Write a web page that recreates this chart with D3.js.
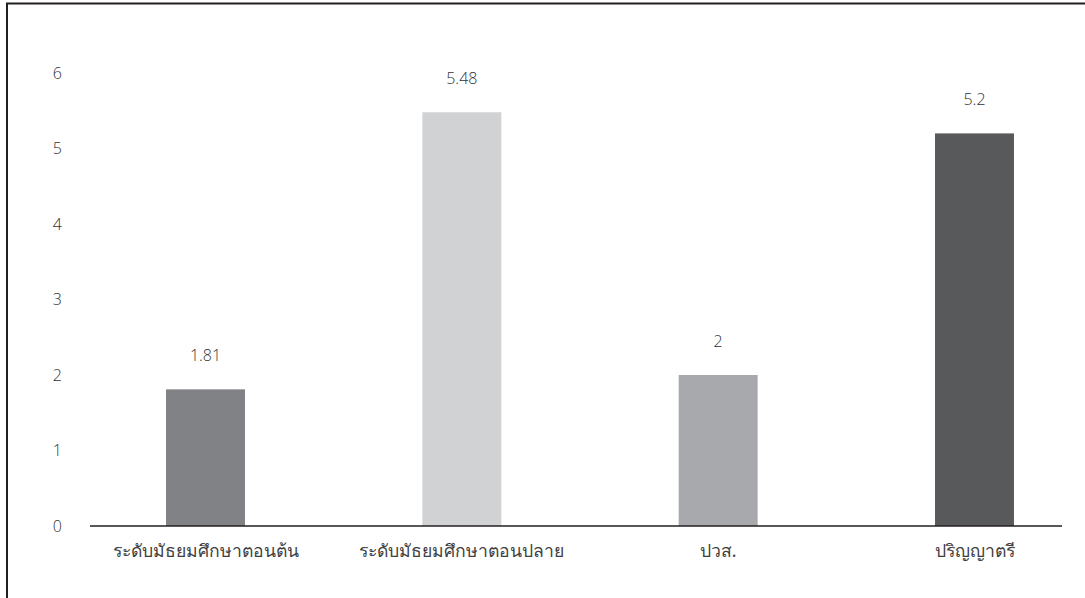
<!DOCTYPE html>
<html><head><meta charset="utf-8">
<script src="https://cdn.jsdelivr.net/npm/d3@7"></script>
<style>
html,body{margin:0;padding:0;background:#fff;}
svg{display:block;}
text{font-family:"Open Sans","Noto Sans",sans-serif;font-weight:300;}
text.cat{font-family:"Noto Sans",sans-serif;font-weight:400;}
</style></head>
<body>
<svg id="chart" width="1085" height="598"></svg>
<script>
const categories = ["ระดับมัธยมศึกษาตอนต้น","ระดับมัธยมศึกษาตอนปลาย","ปวส.","ปริญญาตรี"];
const values = [1.81, 5.48, 2, 5.2];
const valueLabels = ["1.81","5.48","2","5.2"];
const barColors = ["#808285","#d1d2d4","#a7a9ac","#58595b"];
const yTicks = [0,1,2,3,4,5,6];

const svg = d3.select("#chart");
// frame
svg.append("line").attr("x1",7).attr("x2",7).attr("y1",3).attr("y2",598).attr("stroke","#231f20").attr("stroke-width",2);
svg.append("line").attr("x1",6).attr("x2",1085).attr("y1",3.5).attr("y2",3.5).attr("stroke","#231f20").attr("stroke-width",2);

const y = d3.scaleLinear().domain([0,6]).range([526,73]);
const x = d3.scalePoint().domain(categories).range([205.5,974.5]);
const bw = x.step()*0.308;

// y tick labels
svg.append("g").selectAll("text").data(yTicks).join("text")
  .attr("x",62).attr("y",d=>y(d)).attr("dy","0.35em")
  .attr("text-anchor","end").attr("font-size",16).attr("fill","#333")
  .text(d=>d);

// bars
svg.append("g").selectAll("rect").data(values).join("rect")
  .attr("x",(d,i)=>x(categories[i])-bw/2).attr("width",bw)
  .attr("y",d=>y(d)).attr("height",d=>y(0)-y(d))
  .attr("fill",(d,i)=>barColors[i]);

// baseline
svg.append("line").attr("x1",90).attr("x2",1062).attr("y1",y(0)).attr("y2",y(0))
  .attr("stroke","#231f20").attr("stroke-width",1.5);

// value labels
svg.append("g").selectAll("text").data(values).join("text")
  .attr("x",(d,i)=>x(categories[i])).attr("y",d=>y(d)-28)
  .attr("text-anchor","middle").attr("font-size",16).attr("fill","#333")
  .text((d,i)=>valueLabels[i]);

// category labels
svg.append("g").selectAll("text").data(categories).join("text")
  .attr("class","cat")
  .attr("x",d=>x(d)).attr("y",557)
  .attr("text-anchor","middle").attr("font-size",17.6).attr("fill","#404041")
  .text(d=>d);
</script>
</body></html>
